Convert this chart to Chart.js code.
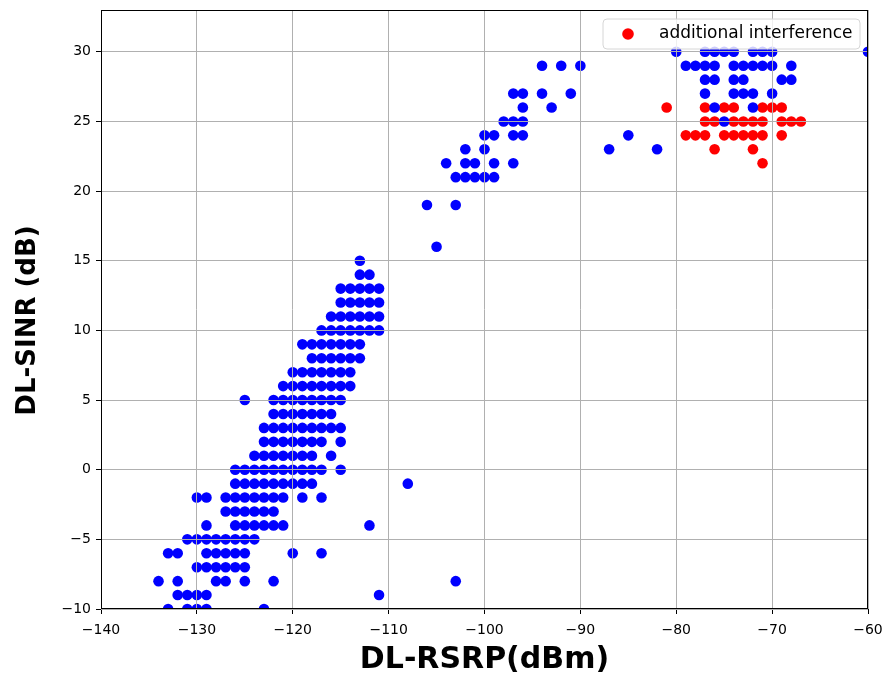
<!DOCTYPE html>
<html>
<head>
<meta charset="utf-8">
<script src="https://cdn.jsdelivr.net/npm/chart.js@4.4.1/dist/chart.umd.min.js"></script>
<style>
html,body{margin:0;padding:0;background:#ffffff;}
#wrap{width:884px;height:678px;}
</style>
</head>
<body>
<div id="wrap"><canvas id="c" width="884" height="678"></canvas></div>
<script>
// ---- axis ticks and titles ----
const xTicks = [-140, -130, -120, -110, -100, -90, -80, -70, -60];
const yTicks = [-10, -5, 0, 5, 10, 15, 20, 25, 30];
const xTitle = 'DL-RSRP(dBm)';
const yTitle = 'DL-SINR (dB)';

// ---- blue series: DL-SINR level and the DL-RSRP values observed at that level ----
const blueSINR = [30, 29, 28, 27, 26, 25, 24, 23, 22, 21, 19, 16, 15, 14, 13, 12, 11, 10, 9, 8, 7, 6, 5, 4, 3, 2, 1, 0, -1, -2, -3, -4, -5, -6, -7, -8, -9, -10];
const blueRSRP = [
  [-80, -77, -76, -75, -74, -72, -71, -70, -60],
  [-94, -92, -90, -79, -78, -77, -76, -74, -73, -72, -71, -70, -68],
  [-77, -76, -74, -73, -69, -68],
  [-97, -96, -94, -91, -77, -74, -73, -72, -70],
  [-96, -93, -76, -72],
  [-98, -97, -96, -75],
  [-100, -99, -97, -96, -85],
  [-102, -100, -87, -82],
  [-104, -102, -101, -99, -97],
  [-103, -102, -101, -100, -99],
  [-106, -103],
  [-105],
  [-113],
  [-113, -112],
  [-115, -114, -113, -112, -111],
  [-115, -114, -113, -112, -111],
  [-116, -115, -114, -113, -112, -111],
  [-117, -116, -115, -114, -113, -112, -111],
  [-119, -118, -117, -116, -115, -114, -113],
  [-118, -117, -116, -115, -114, -113],
  [-120, -119, -118, -117, -116, -115, -114],
  [-121, -120, -119, -118, -117, -116, -115, -114],
  [-125, -122, -121, -120, -119, -118, -117, -116, -115],
  [-122, -121, -120, -119, -118, -117, -116],
  [-123, -122, -121, -120, -119, -118, -117, -116, -115],
  [-123, -122, -121, -120, -119, -118, -117, -115],
  [-124, -123, -122, -121, -120, -119, -118, -116],
  [-126, -125, -124, -123, -122, -121, -120, -119, -118, -117, -115],
  [-126, -125, -124, -123, -122, -121, -120, -119, -118, -108],
  [-130, -129, -127, -126, -125, -124, -123, -122, -121, -119, -117],
  [-127, -126, -125, -124, -123, -122],
  [-129, -126, -125, -124, -123, -122, -121, -112],
  [-131, -130, -129, -128, -127, -126, -125, -124],
  [-133, -132, -129, -128, -127, -126, -125, -120, -117],
  [-130, -129, -128, -127, -126, -125],
  [-134, -132, -128, -127, -125, -122, -103],
  [-132, -131, -130, -129, -111],
  [-133, -131, -130, -129, -123]
];

// ---- red series: "additional interference" ----
const redLabel = 'additional interference';
const redSINR = [26, 25, 24, 23, 22];
const redRSRP = [
  [-81, -77, -75, -74, -71, -70, -69],
  [-77, -76, -74, -73, -72, -71, -69, -68, -67],
  [-79, -78, -77, -75, -74, -73, -72, -71, -69],
  [-76, -72],
  [-71]
];

function toPoints(levels, rows) {
  const pts = [];
  levels.forEach((y, i) => rows[i].forEach(x => pts.push({x: x, y: y})));
  return pts;
}

const minus = s => String(s).replace('-', '\u2212');

const frameAndLegend = {
  id: 'frameAndLegend',
  afterDraw(chart) {
    const ctx = chart.ctx;
    const ca = chart.chartArea;
    ctx.save();
    // axes frame
    ctx.strokeStyle = '#000000';
    ctx.lineWidth = 1;
    ctx.strokeRect(Math.round(ca.left) + 0.5, Math.round(ca.top) + 0.5,
                   Math.round(ca.right - ca.left) - 1, Math.round(ca.bottom - ca.top) - 1);
    // y axis title
    ctx.save();
    ctx.translate(28, (ca.top + ca.bottom) / 2 + 11);
    ctx.rotate(-Math.PI / 2);
    ctx.fillStyle = '#000000';
    ctx.font = 'bold 26px "DejaVu Sans"';
    ctx.textAlign = 'center';
    ctx.textBaseline = 'middle';
    ctx.fillText(yTitle, 0, 0);
    ctx.restore();
    // legend
    const ds = chart.data.datasets[1];
    const bx = ca.right - 265, by = ca.top + 9, bw = 257, bh = 30, r = 4;
    ctx.beginPath();
    ctx.moveTo(bx + r, by);
    ctx.lineTo(bx + bw - r, by);
    ctx.quadraticCurveTo(bx + bw, by, bx + bw, by + r);
    ctx.lineTo(bx + bw, by + bh - r);
    ctx.quadraticCurveTo(bx + bw, by + bh, bx + bw - r, by + bh);
    ctx.lineTo(bx + r, by + bh);
    ctx.quadraticCurveTo(bx, by + bh, bx, by + bh - r);
    ctx.lineTo(bx, by + r);
    ctx.quadraticCurveTo(bx, by, bx + r, by);
    ctx.closePath();
    ctx.fillStyle = 'rgba(255,255,255,0.8)';
    ctx.fill();
    ctx.strokeStyle = '#d6d6d6';
    ctx.stroke();
    ctx.beginPath();
    ctx.arc(bx + 25, by + bh / 2, 5.8, 0, Math.PI * 2);
    ctx.fillStyle = ds.backgroundColor;
    ctx.fill();
    ctx.fillStyle = '#000000';
    ctx.font = '17px "DejaVu Sans"';
    ctx.textBaseline = 'middle';
    ctx.textAlign = 'left';
    ctx.fillText(ds.label, bx + 56, by + bh / 2);
    ctx.restore();
  }
};

new Chart(document.getElementById('c'), {
  type: 'scatter',
  data: {
    datasets: [
      {
        label: 'measurements',
        data: toPoints(blueSINR, blueRSRP),
        backgroundColor: '#0000ff',
        borderColor: '#0000ff',
        borderWidth: 0,
        pointRadius: 5.3,
        pointHoverRadius: 5.3,
        clip: 0
      },
      {
        label: redLabel,
        data: toPoints(redSINR, redRSRP),
        backgroundColor: '#ff0000',
        borderColor: '#ff0000',
        borderWidth: 0,
        pointRadius: 5.3,
        pointHoverRadius: 5.3,
        clip: 0
      }
    ]
  },
  options: {
    responsive: false,
    animation: false,
    events: [],
    layout: { padding: { left: 0, right: 16, top: 10, bottom: 0 } },
    plugins: {
      legend: { display: false },
      tooltip: { enabled: false },
      title: { display: false }
    },
    scales: {
      x: {
        type: 'linear',
        min: -140,
        max: -60,
        afterBuildTicks: s => { s.ticks = xTicks.map(v => ({value: v})); },
        afterFit: s => { s.height = 69; s.paddingLeft = 0; s.paddingRight = 0; },
        grid: { color: '#b0b0b0', lineWidth: 1, z: 1, drawTicks: true, tickLength: 5, tickColor: '#000000' },
        border: { display: false },
        ticks: {
          callback: v => minus(v),
          color: '#000000',
          font: { family: 'DejaVu Sans', size: 14 },
          padding: 8,
          maxRotation: 0
        },
        title: {
          display: true,
          text: xTitle,
          color: '#000000',
          font: { family: 'DejaVu Sans', size: 30, weight: 'bold' },
          padding: { top: 0, bottom: 0 }
        }
      },
      y: {
        type: 'linear',
        min: -10,
        max: 33,
        afterBuildTicks: s => { s.ticks = yTicks.map(v => ({value: v})); },
        afterFit: s => { s.width = 101; s.paddingTop = 0; s.paddingBottom = 0; },
        grid: { color: '#b0b0b0', lineWidth: 1, z: 1, drawTicks: true, tickLength: 5, tickColor: '#000000' },
        border: { display: false },
        ticks: {
          callback: v => minus(v),
          color: '#000000',
          font: { family: 'DejaVu Sans', size: 14 },
          padding: 5
        },
        title: { display: false }
      }
    }
  },
  plugins: [frameAndLegend]
});
</script>
</body>
</html>
